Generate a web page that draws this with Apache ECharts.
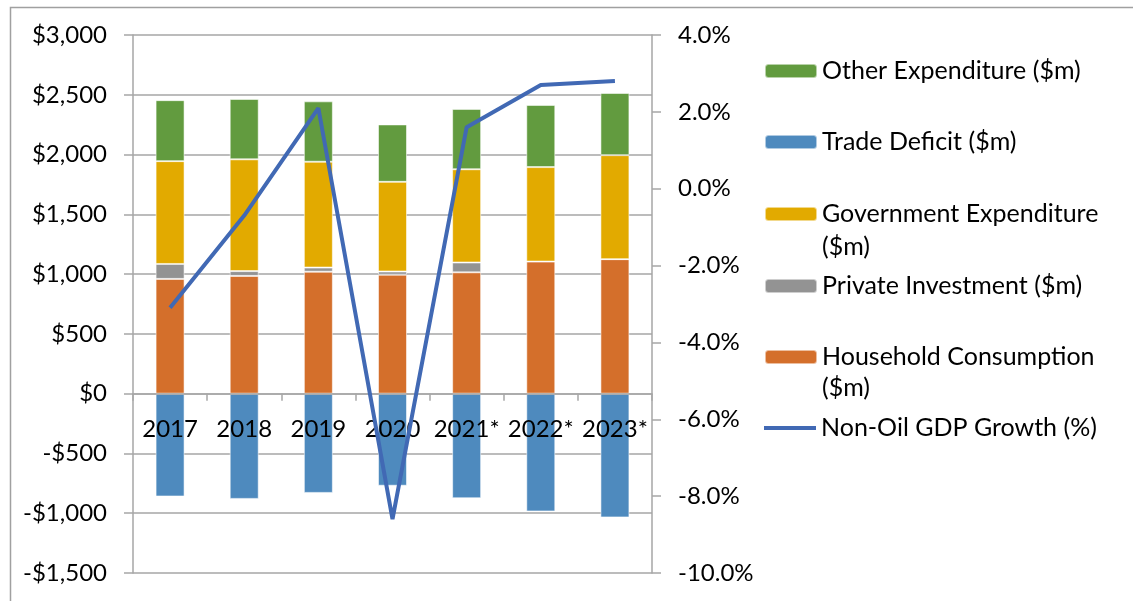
<!DOCTYPE html>
<html>
<head>
<meta charset="utf-8">
<script src="https://cdn.jsdelivr.net/npm/echarts@6/dist/echarts.min.js"></script>
<style>
  html, body { margin: 0; padding: 0; background: #fff; }
  #chart { width: 1133px; height: 601px; }
</style>
</head>
<body>
<div id="chart"></div>
<script>
const categories = ['2017', '2018', '2019', '2020', '2021*', '2022*', '2023*']
const household = [960, 985, 1020, 995, 1015, 1105, 1125]
const privateInvestment = [125, 40, 35, 27, 82, 0, 0]
const government = [860, 935, 885, 750, 780, 790, 870]
const otherExpenditure = [510, 505, 505, 480, 505, 520, 520]
const tradeDeficit = [-860, -880, -830, -770, -875, -985, -1035]
const gdpGrowth = [-3.1, -0.7, 2.1, -8.6, 1.6, 2.7, 2.8]

const FONT = 'Lato'
const GRID = '#a6a6a6'
const MONEY_MIN = -1500
const MONEY_MAX = 3000
const GRID_TOP = 35
const GRID_BOTTOM = 28
const GRID_HEIGHT = 601 - GRID_TOP - GRID_BOTTOM

function money (v) {
  const s = '$' + Math.abs(v).toLocaleString('en-US')
  return v < 0 ? '-' + s : s
}

// one legend block per entry so the spacing can follow the original
function legendAt (name, centerY, label, icon) {
  const item = icon ? { name, icon } : { name }
  return {
    data: [item],
    orient: 'vertical',
    left: 764,
    top: centerY - 16,
    padding: 0,
    itemWidth: 52,
    itemHeight: icon ? 4 : 14,
    itemGap: 0,
    selectedMode: false,
    formatter: () => label,
    textStyle: { fontFamily: FONT, fontSize: 25, color: '#000', lineHeight: 32 }
  }
}

function wrapLine (text, centerY) {
  return {
    type: 'text',
    left: 822,
    top: centerY - 16,
    style: { text, fontFamily: FONT, fontSize: 25, lineHeight: 32, fill: '#000' }
  }
}

const chartDom = document.getElementById('chart')
const myChart = echarts.init(chartDom)

function bar (name, data, color) {
  return {
    name,
    data,
    type: 'bar',
    stack: 'gdp',
    barWidth: 29,
    itemStyle: { color, borderColor: 'rgba(255,255,255,0.55)', borderWidth: 1 }
  }
}

const option = {
  animation: false,
  graphic: [
    {
      type: 'rect',
      left: 8,
      top: 5,
      z: -10,
      shape: { width: 1200, height: 700 },
      style: { fill: 'none', stroke: '#a0a0a0', lineWidth: 1.5 }
    },
    wrapLine('($m)', 247),
    wrapLine('($m)', 388)
  ],
  legend: [
    legendAt('Other Expenditure ($m)', 71, 'Other Expenditure ($m)'),
    legendAt('Trade Deficit ($m)', 142, 'Trade Deficit ($m)'),
    legendAt('Government Expenditure ($m)', 214, 'Government Expenditure'),
    legendAt('Private Investment ($m)', 286, 'Private Investment ($m)'),
    legendAt('Household Consumption ($m)', 357, 'Household Consumption'),
    legendAt('Non-Oil GDP Growth (%)', 428, 'Non-Oil GDP Growth (%)', 'path://M0,0L52,0L52,4L0,4Z')
  ],
  grid: { left: 133, right: 481, top: GRID_TOP, bottom: GRID_BOTTOM, outerBoundsMode: 'none' },
  xAxis: {
    type: 'category',
    data: categories,
    z: 3,
    // category axis sits on the $0 line
    offset: -GRID_HEIGHT * (0 - MONEY_MIN) / (MONEY_MAX - MONEY_MIN),
    axisLine: { onZero: false, lineStyle: { color: GRID, width: 1.5 } },
    axisTick: { show: true, length: 7, lineStyle: { color: GRID, width: 1.5 } },
    axisLabel: { interval: 0, margin: 24, fontFamily: FONT, fontSize: 24, color: '#000' }
  },
  yAxis: [
    {
      type: 'value',
      min: MONEY_MIN,
      max: MONEY_MAX,
      interval: 500,
      axisLine: { show: true, lineStyle: { color: GRID, width: 1.5 } },
      axisTick: { show: true, length: 9, lineStyle: { color: GRID, width: 1.5 } },
      splitLine: { lineStyle: { color: GRID, width: 1.5 } },
      axisLabel: { margin: 26, fontFamily: FONT, fontSize: 24, color: '#000', formatter: money }
    },
    {
      type: 'value',
      min: -10,
      max: 4,
      interval: 2,
      axisLine: { show: true, lineStyle: { color: GRID, width: 1.5 } },
      axisTick: { show: true, length: 9, lineStyle: { color: GRID, width: 1.5 } },
      splitLine: { show: false },
      axisLabel: {
        margin: 26,
        fontFamily: FONT,
        fontSize: 24,
        color: '#000',
        formatter: v => v.toFixed(1) + '%'
      }
    }
  ],
  series: [
    bar('Household Consumption ($m)', household, '#d46f2b'),
    bar('Private Investment ($m)', privateInvestment, '#939393'),
    bar('Government Expenditure ($m)', government, '#e2aa00'),
    bar('Other Expenditure ($m)', otherExpenditure, '#629b3f'),
    bar('Trade Deficit ($m)', tradeDeficit, '#4e8abe'),
    {
      name: 'Non-Oil GDP Growth (%)',
      type: 'line',
      yAxisIndex: 1,
      data: gdpGrowth,
      symbol: 'none',
      z: 5,
      lineStyle: { color: '#4169b4', width: 4 },
      itemStyle: { color: '#4169b4' }
    }
  ]
}

myChart.setOption(option)
</script>
</body>
</html>
